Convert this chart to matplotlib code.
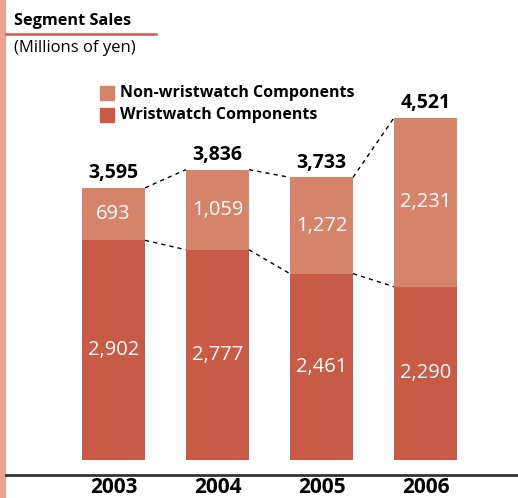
import matplotlib.pyplot as plt
import matplotlib.transforms as mtransforms
from matplotlib.lines import Line2D
from matplotlib.patches import Rectangle

# Segment sales, millions of yen
years = ['2003', '2004', '2005', '2006']
wristwatch = [2902, 2777, 2461, 2290]
non_wristwatch = [693, 1059, 1272, 2231]
totals = [w + n for w, n in zip(wristwatch, non_wristwatch)]

dark = '#C85A46'
light = '#D6836C'
font = 'Open Sans'

W, H = 518, 498
fig = plt.figure(figsize=(W / 100, H / 100), dpi=100)

# left decorative strip
fig.patches.append(Rectangle((0, 0), 5 / W, 1, transform=fig.transFigure,
                             color='#E9A48C', zorder=0))

# axes: bottom at pixel 460, top at pixel 60
ax = fig.add_axes([0, (H - 460) / H, 1, 400 / H])
ax.set_xlim(-113.5 / 104, (W - 113.5) / 104)
ax.set_ylim(0, 5284)
ax.axis('off')

x = list(range(len(years)))
bw = 0.606
ax.bar(x, wristwatch, width=bw, color=dark, label='Wristwatch Components')
ax.bar(x, non_wristwatch, width=bw, bottom=wristwatch, color=light,
       label='Non-wristwatch Components')

for i in x:
    ax.text(i, wristwatch[i] / 2, f'{wristwatch[i]:,}', ha='center', va='center',
            color='white', fontsize=14.5, family=font)
    ax.text(i, wristwatch[i] + non_wristwatch[i] / 2, f'{non_wristwatch[i]:,}',
            ha='center', va='center', color='white', fontsize=14.5, family=font)
    ax.text(i, totals[i] + 60, f'{totals[i]:,}', ha='center', va='bottom',
            fontsize=14, fontweight='bold', family=font)

# dashed connectors
for i in range(len(years) - 1):
    for s in (totals, wristwatch):
        ax.plot([i + bw / 2, i + 1 - bw / 2], [s[i], s[i + 1]], color='black',
                lw=1, ls=(0, (3, 3)))

# year labels below the baseline
year_tr = ax.get_xaxis_transform() + mtransforms.ScaledTranslation(0, -0.38, fig.dpi_scale_trans)
for i in x:
    ax.text(i, 0, years[i], ha='center', va='bottom', fontsize=15,
            fontweight='bold', family=font, clip_on=False, transform=year_tr)
fig.lines.append(Line2D([6 / W, 1], [(H - 475) / H] * 2, transform=fig.transFigure,
                        color='#333333', lw=2))

# title block
fig.text(14 / W, 1 - 21 / H, 'Segment Sales', fontsize=11.7, fontweight='bold',
         family=font, va='center')
fig.lines.append(Line2D([6 / W, 156 / W], [1 - 34 / H] * 2, transform=fig.transFigure,
                        color=dark, lw=1.8))
fig.text(14 / W, 1 - 48 / H, '(Millions of yen)', fontsize=12, family=font, va='center')

# legend
for yy, c, lab in [(93, light, 'Non-wristwatch Components'),
                   (115, dark, 'Wristwatch Components')]:
    fig.patches.append(Rectangle((100 / W, 1 - (yy + 7) / H), 14 / W, 14 / H,
                                 transform=fig.transFigure, color=c))
    fig.text(120 / W, 1 - yy / H, lab, fontsize=11.5, fontweight='bold',
             family=font, va='center')

fig.savefig('out.png', dpi=100)
